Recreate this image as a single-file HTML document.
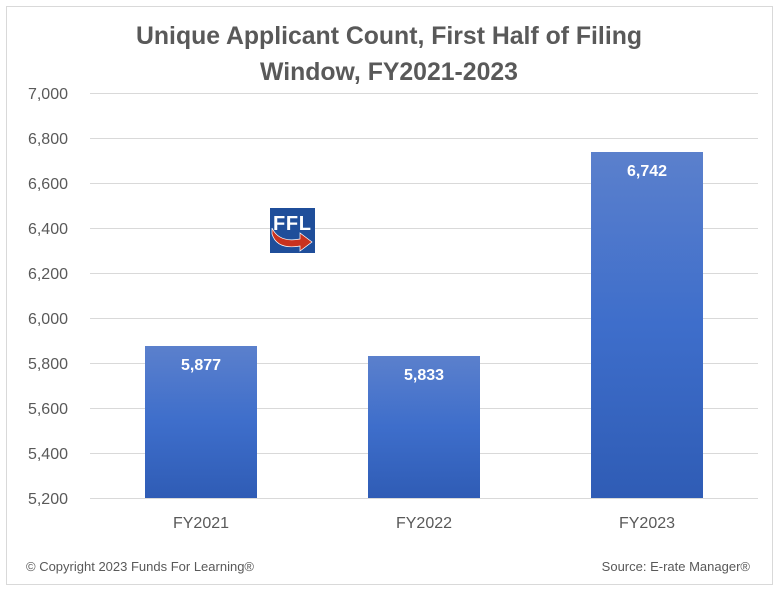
<!DOCTYPE html>
<html><head><style>
body{margin:0;background:#fff;}
</style></head><body>
<svg width="779" height="594" xmlns="http://www.w3.org/2000/svg" font-family="Liberation Sans, sans-serif">
<defs>
<linearGradient id="g" x1="0" y1="0" x2="0" y2="1">
<stop offset="0" stop-color="#5b80cc"/><stop offset="0.5" stop-color="#3e6ecb"/><stop offset="1" stop-color="#2f5cb5"/>
</linearGradient>
</defs>
<rect x="6.5" y="6.5" width="766" height="578" fill="#fff" stroke="#d9d9d9"/>
<text x="389" y="44" text-anchor="middle" font-size="24.8" font-weight="bold" fill="#595959">Unique Applicant Count, First Half of Filing</text>
<text x="389" y="80" text-anchor="middle" font-size="24.8" font-weight="bold" fill="#595959">Window, FY2021-2023</text>
<g stroke="#d9d9d9" stroke-width="1">
<line x1="90" x2="758" y1="93.5" y2="93.5"/><line x1="90" x2="758" y1="138.5" y2="138.5"/>
<line x1="90" x2="758" y1="183.5" y2="183.5"/><line x1="90" x2="758" y1="228.5" y2="228.5"/>
<line x1="90" x2="758" y1="273.5" y2="273.5"/><line x1="90" x2="758" y1="318.5" y2="318.5"/>
<line x1="90" x2="758" y1="363.5" y2="363.5"/><line x1="90" x2="758" y1="408.5" y2="408.5"/>
<line x1="90" x2="758" y1="453.5" y2="453.5"/><line x1="90" x2="758" y1="498.5" y2="498.5"/>
</g>
<g font-size="16" fill="#595959" text-anchor="end">
<text x="68" y="99">7,000</text><text x="68" y="144">6,800</text><text x="68" y="189">6,600</text>
<text x="68" y="234">6,400</text><text x="68" y="279">6,200</text><text x="68" y="324">6,000</text>
<text x="68" y="369">5,800</text><text x="68" y="414">5,600</text><text x="68" y="459">5,400</text>
<text x="68" y="504">5,200</text>
</g>
<rect x="145" y="346" width="112" height="152" fill="url(#g)"/>
<rect x="368" y="356" width="112" height="142" fill="url(#g)"/>
<rect x="591" y="152" width="112" height="346" fill="url(#g)"/>
<g font-size="16" font-weight="bold" fill="#fff" text-anchor="middle">
<text x="201" y="370">5,877</text><text x="424" y="380">5,833</text><text x="647" y="176">6,742</text>
</g>
<g font-size="16" fill="#595959" text-anchor="middle">
<text x="201" y="528">FY2021</text><text x="424" y="528">FY2022</text><text x="647" y="528">FY2023</text>
</g>
<rect x="270" y="208" width="45" height="45" fill="#1f4e9a"/>
<text x="292" y="230" text-anchor="middle" font-size="20" font-weight="bold" fill="#fff" textLength="38">FFL</text>
<path d="M272 228 Q279 243 300 239 L300 233 L312 242 L300 251 L300 246 Q277 250 272 234 Z" fill="#c8321f" stroke="#fff" stroke-width="0.7"/>
<text x="26" y="571" font-size="13" fill="#595959">© Copyright 2023 Funds For Learning®</text>
<text x="750" y="571" text-anchor="end" font-size="13" fill="#595959">Source: E-rate Manager®</text>
</svg>
</body></html>
